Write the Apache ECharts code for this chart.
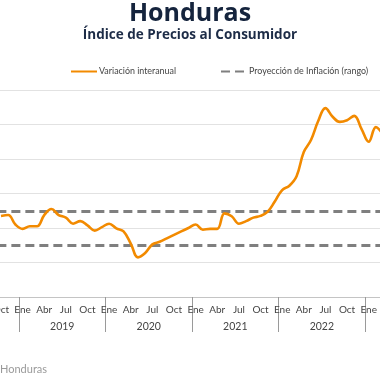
<!DOCTYPE html>
<html>
<head>
<meta charset="utf-8">
<script src="https://cdn.jsdelivr.net/npm/echarts@6/dist/echarts.min.js"></script>
<style>html,body{margin:0;padding:0;background:#fff}#c{width:380px;height:380px}</style>
</head>
<body>
<div id="c"></div>
<script>
// Month names (Spanish) and the monthly period shown (Oct 2018 – Mar 2023)
var monthNames = ['Ene','Feb','Mar','Abr','May','Jun','Jul','Ago','Sep','Oct','Nov','Dic'];
var startYear = 2018, startMonth = 9;   // Oct 2018 (0-based month)
var endYear = 2023, endMonth = 2;       // Mar 2023
var shownMonths = ['Ene','Abr','Jul','Oct'];
var yearLabels = ['2018','2019','2020','2021','2022','2023'];

// Variación interanual (%), Oct 2018 ... Mar 2023
var inflation = [
  4.70, 4.75, 4.20,
  3.95, 4.10, 4.10, 4.75, 5.10, 4.75, 4.60, 4.25, 4.40, 4.15, 3.85, 4.05,
  4.25, 3.98, 3.80, 3.10, 2.30, 2.55, 3.05, 3.20, 3.40, 3.60, 3.80, 4.00,
  4.20, 3.90, 3.95, 3.95, 4.85, 4.68, 4.25, 4.40, 4.60, 4.70, 4.95, 5.55,
  6.20, 6.45, 7.00, 8.40, 9.10, 10.20, 10.95, 10.45, 10.15, 10.25, 10.50, 9.75,
  9.00, 9.85, 9.40
];
// Proyección de Inflación (rango)
var rangeBounds = [5, 3];

var categories = [];
(function(){
  var y = startYear, m = startMonth;
  while (y < endYear || (y === endYear && m <= endMonth)) {
    categories.push(monthNames[m] + ' ' + y);
    m++; if (m > 11) { m = 0; y++; }
  }
})();

var chart = echarts.init(document.getElementById('c'), null, {renderer:'canvas'});
var FONT = 'Lato';
var TFONT = 'Open Sans';
chart.setOption({
  animation: false,
  backgroundColor: '#ffffff',
  title: [
    {text: 'Honduras', left: 'center', top: 1, padding: 0,
     textStyle: {fontFamily: TFONT, fontWeight: 'bold', fontSize: 25, lineHeight: 25, color: '#15243d'}},
    {text: 'Índice de Precios al Consumidor', left: 'center', top: 28, padding: 0,
     textStyle: {fontFamily: TFONT, fontWeight: 'bold', fontSize: 13.5, color: '#1d2c47'}},
    {text: 'Honduras', left: 0, top: 364, padding: 0,
     textStyle: {fontFamily: FONT, fontWeight: 'normal', fontSize: 11, color: '#9a9a9a'}}
  ],
  legend: {
    left: 70, top: 67, width: 330, orient: 'horizontal', padding: 0,
    itemWidth: 26, itemHeight: 10, itemGap: 44,
    itemStyle: {opacity: 0},
    textStyle: {fontFamily: FONT, fontSize: 8.9, color: '#444', padding: [0, 0, 0, -3]},
    data: ['Variación interanual', 'Proyección de Inflación (rango)']
  },
  grid: {left: -2.63, right: -6.7, top: 90, bottom: 83, containLabel: false, outerBoundsMode: 'none'},
  xAxis: [
    {
      type: 'category', data: categories, boundaryGap: true, position: 'bottom',
      axisLine: {show: true, lineStyle: {color: '#c4c4c4', width: 1}},
      axisTick: {show: false},
      axisLabel: {
        margin: 8, fontFamily: FONT, fontSize: 10, color: '#444',
        interval: function(i, v){ return shownMonths.indexOf(v.split(' ')[0]) >= 0; },
        formatter: function(v){ return v.split(' ')[0]; }
      }
    },
    {
      type: 'category', data: categories, boundaryGap: true, position: 'bottom',
      axisLine: {show: false},
      axisTick: {
        show: true, length: 35, lineStyle: {color: '#9a9a9a', width: 1},
        interval: function(i, v){ return v.split(' ')[0] === 'Ene'; }
      },
      axisLabel: {
        margin: 24, fontFamily: FONT, fontSize: 10.5, color: '#444',
        padding: [0, 0, 0, 7.2],
        interval: function(i, v){ return v.split(' ')[0] === 'Jun'; },
        formatter: function(v){ var y = v.split(' ')[1]; return yearLabels.indexOf(y) >= 0 ? y : ''; }
      }
    }
  ],
  yAxis: {
    type: 'value', min: 0, max: 12, interval: 2,
    axisLabel: {show: false}, axisTick: {show: false}, axisLine: {show: false},
    splitLine: {show: true, lineStyle: {color: '#e2e2e2', width: 1}}
  },
  series: [
    {
      name: 'Proyección de Inflación (rango)', type: 'line', data: [],
      symbol: 'none', color: '#7f7f7f',
      lineStyle: {color: '#7f7f7f', width: 3, type: [9, 5]},
      markLine: {
        silent: true, symbol: 'none', label: {show: false},
        lineStyle: {color: '#7f7f7f', width: 3, type: [9, 5]},
        data: rangeBounds.map(function(b){ return {yAxis: b}; })
      }
    },
    {
      name: 'Variación interanual', type: 'line', data: inflation,
      smooth: 0.4, symbol: 'none', color: '#f28a00',
      lineStyle: {color: '#f28a00', width: 2.6}, z: 5
    }
  ]
});
</script>
</body>
</html>
